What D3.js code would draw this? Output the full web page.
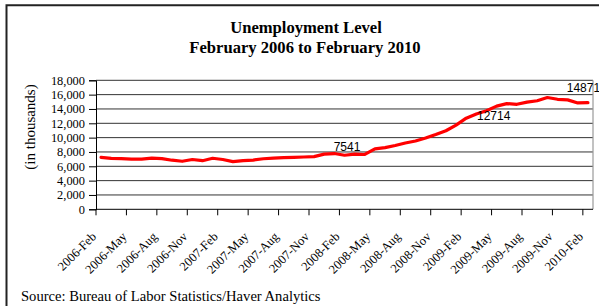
<!DOCTYPE html>
<html>
<head>
<meta charset="utf-8">
<script src="https://cdn.jsdelivr.net/npm/d3@7"></script>
<style>
  html, body { margin: 0; padding: 0; background: #fff; }
  svg { display: block; }
</style>
</head>
<body>
<svg id="chart" width="599" height="306"></svg>
<script>
// ---- Data ----
const categories = [
  "2006-Feb","2006-Mar","2006-Apr","2006-May","2006-Jun","2006-Jul","2006-Aug","2006-Sep","2006-Oct","2006-Nov","2006-Dec",
  "2007-Jan","2007-Feb","2007-Mar","2007-Apr","2007-May","2007-Jun","2007-Jul","2007-Aug","2007-Sep","2007-Oct","2007-Nov","2007-Dec",
  "2008-Jan","2008-Feb","2008-Mar","2008-Apr","2008-May","2008-Jun","2008-Jul","2008-Aug","2008-Sep","2008-Oct","2008-Nov","2008-Dec",
  "2009-Jan","2009-Feb","2009-Mar","2009-Apr","2009-May","2009-Jun","2009-Jul","2009-Aug","2009-Sep","2009-Oct","2009-Nov","2009-Dec",
  "2010-Jan","2010-Feb"
];
const unemployment = [
  7250,7100,7080,7000,7000,7130,7080,6850,6700,6950,6780,
  7120,6950,6650,6800,6870,7050,7150,7200,7250,7300,7350,7700,
  7780,7541,7700,7650,8440,8600,8900,9250,9530,9940,10430,10960,
  11750,12714,13300,13750,14400,14750,14650,14950,15150,15600,15350,15270,
  14840,14871
];
const xTickLabels = [
  "2006-Feb","2006-May","2006-Aug","2006-Nov","2007-Feb","2007-May","2007-Aug","2007-Nov",
  "2008-Feb","2008-May","2008-Aug","2008-Nov","2009-Feb","2009-May","2009-Aug","2009-Nov","2010-Feb"
];
const yTickValues = [0,2000,4000,6000,8000,10000,12000,14000,16000,18000];
const labelledCategories = ["2008-Feb","2009-Feb","2010-Feb"];
const titleLines = ["Unemployment Level","February 2006 to February 2010"];
const yAxisTitle = "(in thousands)";
const sourceText = "Source: Bureau of Labor Statistics/Haver Analytics";

// ---- Layout ----
const svg = d3.select("#chart");
const plot = { left: 96, right: 593, top: 80.3, bottom: 209.3 };
const serif = "'Liberation Serif', 'Times New Roman', serif";
const sans = "'Liberation Sans', Arial, sans-serif";

const x = d3.scaleBand().domain(categories).range([plot.left, plot.right]).padding(0);
const y = d3.scaleLinear().domain([0, 18000]).range([plot.bottom, plot.top]);
const cx = d => x(d) + x.bandwidth() / 2;

// Outer frame
svg.append("path")
  .attr("d", `M6.5,310 L6.5,5.3 L605,5.3`)
  .attr("fill", "none").attr("stroke", "#222").attr("stroke-width", 2);

// Titles
svg.append("text").attr("x", 306).attr("y", 32.5)
  .attr("text-anchor", "middle").attr("font-family", serif).attr("font-weight", "bold")
  .attr("font-size", 16.6).attr("fill", "#000").text(titleLines[0]);
svg.append("text").attr("x", 305).attr("y", 53.3)
  .attr("text-anchor", "middle").attr("font-family", serif).attr("font-weight", "bold")
  .attr("font-size", 16.6).attr("fill", "#000").text(titleLines[1]);

// Gridlines
svg.append("g").selectAll("line").data(yTickValues.filter(v => v > 0)).join("line")
  .attr("x1", plot.left).attr("x2", plot.right)
  .attr("y1", d => y(d)).attr("y2", d => y(d))
  .attr("stroke", "#333").attr("stroke-width", 1);

// Right plot border
svg.append("line").attr("x1", plot.right).attr("x2", plot.right)
  .attr("y1", plot.top).attr("y2", plot.bottom)
  .attr("stroke", "#999").attr("stroke-width", 1.2);

// Y axis
const yAxis = d3.axisLeft(y).tickValues(yTickValues).tickSize(7).tickPadding(4)
  .tickFormat(d3.format(","));
const gy = svg.append("g").attr("transform", `translate(${plot.left},0)`).call(yAxis);
gy.select(".domain").attr("stroke", "#000");
gy.selectAll(".tick line").attr("stroke", "#000");
gy.selectAll(".tick text").attr("font-family", serif).attr("font-size", 12.4).attr("fill", "#000");

// X axis
const tickCats = xTickLabels;
const gx = svg.append("g").attr("transform", `translate(0,${plot.bottom})`);
gx.append("line").attr("x1", plot.left).attr("x2", plot.right).attr("y1", 0).attr("y2", 0)
  .attr("stroke", "#000").attr("stroke-width", 1);
gx.selectAll("line.tick").data(tickCats).join("line").attr("class", "tick")
  .attr("x1", d => x(d)).attr("x2", d => x(d)).attr("y1", 0).attr("y2", 6)
  .attr("stroke", "#000").attr("stroke-width", 1);
gx.selectAll("text").data(tickCats).join("text")
  .attr("transform", d => `translate(${x(d) + 1},${28}) rotate(-45)`)
  .attr("text-anchor", "end").attr("font-family", serif).attr("font-size", 12.6)
  .attr("fill", "#000").text(d => d);

// Y axis title
svg.append("text").attr("transform", "translate(35,127) rotate(-90)")
  .attr("text-anchor", "middle").attr("font-family", serif).attr("font-size", 15)
  .attr("fill", "#000").text(yAxisTitle);

// Line
const line = d3.line().x((d, i) => cx(categories[i])).y(d => y(d));
svg.append("path").datum(unemployment).attr("d", line)
  .attr("fill", "none").attr("stroke", "#ff0000").attr("stroke-width", 3.2)
  .attr("stroke-linejoin", "round").attr("stroke-linecap", "round");

// Data labels
const labelStyle = {
  "2008-Feb": { anchor: "middle", dx: 2.5, dy: -4.7 },
  "2009-Feb": { anchor: "start", dx: 10.8, dy: 2.3 },
  "2010-Feb": { anchor: "start", dx: -21.2, dy: -10.3 }
};
svg.append("g").selectAll("text").data(labelledCategories).join("text")
  .attr("x", d => cx(d) + labelStyle[d].dx)
  .attr("y", d => y(unemployment[categories.indexOf(d)]) + labelStyle[d].dy)
  .attr("text-anchor", d => labelStyle[d].anchor)
  .attr("font-family", sans).attr("font-size", 12).attr("fill", "#000")
  .text(d => unemployment[categories.indexOf(d)]);

// Source
svg.append("text").attr("x", 21).attr("y", 300.5)
  .attr("font-family", serif).attr("font-size", 14.6).attr("fill", "#000")
  .text(sourceText);
</script>
</body>
</html>
